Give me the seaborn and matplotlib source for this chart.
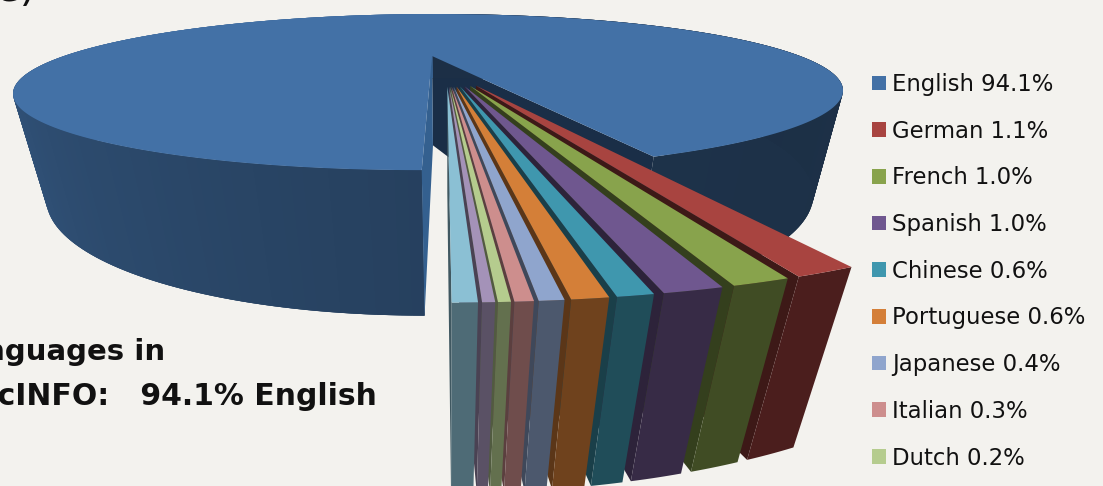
import numpy as np
import matplotlib
matplotlib.use("Agg")
import matplotlib.pyplot as plt
from matplotlib.collections import PolyCollection
from matplotlib.patches import Patch
import seaborn as sns

# Shares of journal content by language, in percent
languages = ["English", "German", "French", "Spanish", "Chinese",
             "Portuguese", "Japanese", "Italian", "Dutch", "Minor A", "Minor B"]
shares = [94.1, 1.1, 1.0, 1.0, 0.6, 0.6, 0.4, 0.3, 0.2, 0.2, 0.4]
share_labels = ["94.1%", "1.1%", "1.0%", "1.0%", "0.6%", "0.6%", "0.4%", "0.3%", "0.2%"]
slice_colors = ["#4371A6", "#A84440", "#88A34C", "#6F578F", "#3F97AE",
                "#D47F38", "#8FA5CD", "#CD8E8D", "#B5CC8E", "#A492B8", "#8BC0D4"]
BACKGROUND = "#F3F2EE"

sns.set_theme(style="white")
plt.rcParams["font.family"] = ["DejaVu Sans"]

# Camera model for the tilted pie: plane perspective plus a vertical vanishing point
ORIGIN = np.array([432.0, 56.0])
VANISH = np.array([448.0, 1520.0])
SCALE_X, SHEAR_X, SCALE_Y, TILT = 368.0, 6.8, 61.4, 0.462
THICKNESS = 0.065
EXPLODE = 0.205
BEARING_END = 21.1  # bearing where English stops, measured from the front of the pie


def project(x, y, drop=0.0):
    x, y = np.asarray(x, float), np.asarray(y, float)
    w = 1 + TILT * y
    px = ORIGIN[0] + (SCALE_X * x + SHEAR_X * y) / w
    py = ORIGIN[1] - SCALE_Y * y / w
    s = THICKNESS * drop
    t = s / (w + s)
    return np.column_stack([px + (VANISH[0] - px) * t, py + (VANISH[1] - py) * t])


def shade(color, bearing):
    f = np.interp(bearing, [-100, -60, -1, 20, 90], [0.93, 0.72, 0.57, 0.44, 0.42])
    return tuple(np.array(matplotlib.colors.to_rgb(color)) * f)


def wedge_outline(cx, cy, b0, b1, n):
    b = np.linspace(b0, b1, n)
    r = np.radians(b)
    return b, cx + np.sin(r), cy - np.cos(r)


fig = plt.figure(figsize=(11.03, 4.86), dpi=100, facecolor=BACKGROUND)
ax = fig.add_axes([0, 0, 1, 1])
ax.set_xlim(0, 1103)
ax.set_ylim(486, 0)
ax.set_facecolor(BACKGROUND)
ax.axis("off")

sweeps = np.array(shares) / sum(shares) * 360.0
# true pie centre, from which English is pushed back by the explosion distance
eng_mid = np.radians(BEARING_END + sweeps[0] / 2)
centre = -EXPLODE * np.array([np.sin(eng_mid), -np.cos(eng_mid)])

# English: rear faces first, then the rim, the cut faces and the top
eng_start, eng_end = BEARING_END, BEARING_END + sweeps[0]
b, x, y = wedge_outline(0.0, 0.0, eng_start, eng_end, 300)
top = project(x, y)
low = project(x, y, 1.0)
apex_top = project(0.0, 0.0)[0]
apex_low = project(0.0, 0.0, 1.0)[0]
ax.add_collection(PolyCollection([[apex_top, top[0], low[0], apex_low]],
                                 facecolors="#1A2E47", edgecolors="none", zorder=1))
signed = (b + 180) % 360 - 180
# neighbouring rim bands overlap so no seams show between them
last = len(b) - 1
quads = [[top[i], top[min(i + 3, last)], low[min(i + 3, last)], low[i]] for i in range(last)]
cols = [shade(slice_colors[0], signed[i]) for i in range(last)]
ax.add_collection(PolyCollection(quads, facecolors=cols, edgecolors="none", zorder=2))
ax.add_collection(PolyCollection([[apex_top, top[-1], low[-1], apex_low]],
                                 facecolors="#34608F", edgecolors="none", zorder=3))
ax.add_collection(PolyCollection([np.vstack([apex_top, top])], facecolors=slice_colors[0],
                                 edgecolors="none", zorder=4))

# Small slices, painted from the outermost bearing inwards so nearer ones overlap
bearing = BEARING_END
z = 5
for value, sweep, color in zip(shares[1:], sweeps[1:], slice_colors[1:]):
    b0, b1 = bearing, bearing - sweep
    mid = np.radians((b0 + b1) / 2)
    tip = centre + EXPLODE * np.array([np.sin(mid), -np.cos(mid)])
    _, x, y = wedge_outline(tip[0], tip[1], b0, b1, 8)
    t_arc, l_arc = project(x, y), project(x, y, 1.0)
    t_tip, l_tip = project(tip[0], tip[1])[0], project(tip[0], tip[1], 1.0)[0]
    side = shade(color, (b0 + b1) / 2)
    strip = tuple(np.array(side) * 0.82)
    polys = [[t_tip, t_arc[-1], l_arc[-1], l_tip],
             np.vstack([t_arc, l_arc[::-1]]),
             np.vstack([t_tip, t_arc])]
    ax.add_collection(PolyCollection(polys, facecolors=[strip, side, color],
                                     edgecolors="none", zorder=z))
    bearing = b1
    z += 1

# Legend entries for the named languages
handles = [Patch(facecolor=c, edgecolor="none") for c in slice_colors[:9]]
labels = [f"{n} {s}" for n, s in zip(languages, share_labels)]
ax.legend(handles, labels, loc="upper left", bbox_to_anchor=(872, 73),
          bbox_transform=ax.transData, frameon=False, fontsize=16.4,
          labelspacing=1.04, handlelength=0.62, handleheight=0.62, handletextpad=0.27,
          borderpad=0, borderaxespad=0, labelcolor="#111111")

# Caption text beneath the pie, and the end of the heading above it
ax.text(165, 360, "Languages in", ha="right", va="baseline", fontsize=21,
        fontweight="bold", color="#111111")
ax.text(377, 405, "PsycINFO:   94.1% English", ha="right", va="baseline", fontsize=21.5,
        fontweight="bold", color="#111111")
ax.text(37, 1, "e)", ha="right", va="baseline", fontsize=30, color="#111111")

fig.savefig("out.png", dpi=100, facecolor=BACKGROUND)
